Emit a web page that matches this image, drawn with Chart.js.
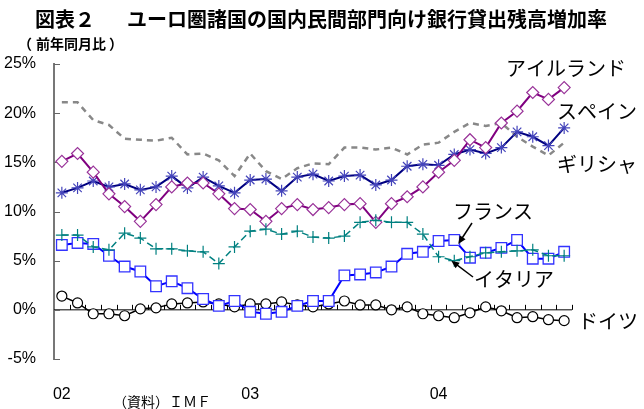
<!DOCTYPE html>
<html>
<head>
<meta charset="utf-8">
<script src="https://cdn.jsdelivr.net/npm/chart.js@4"></script>
<style>
  body { margin: 0; background: #fff; }
  canvas { display: block; }
</style>
</head>
<body>
<canvas id="loanChart" width="644" height="409"></canvas>
<script>
// monthly, Jan 2002 - Sep 2004
const categories = [];
for (const yr of ['02', '03', '04']) {
    for (let m = 1; m <= 12; m++) {
        if (yr === '04' && m > 9) break;
        categories.push(yr + '/' + m);
    }
}
const yearTicks = ['02', '03', '04'];
const yTicks = [-5, 0, 5, 10, 15, 20, 25];

const ireland = [15.1, 15.9, 14.0, 11.8, 10.5, 9.0, 10.7, 12.5, 12.9, 12.9, 11.8, 10.3, 10.2, 9.0, 10.3, 10.7, 10.2, 10.4, 10.7, 10.8, 8.9, 10.8, 11.5, 12.5, 14.0, 15.2, 17.3, 16.5, 19.0, 20.2, 22.1, 21.4, 22.6];
const spain = [11.9, 12.4, 13.1, 12.5, 12.8, 12.2, 12.5, 13.6, 12.4, 13.5, 12.6, 11.9, 13.2, 13.3, 12.1, 13.5, 13.8, 13.1, 13.6, 13.7, 12.7, 13.2, 14.6, 14.8, 14.7, 15.8, 16.3, 15.9, 16.5, 18.1, 17.6, 16.7, 18.5];
const greece = [21.1, 21.1, 19.3, 18.8, 17.4, 17.3, 17.2, 17.5, 15.8, 15.9, 15.2, 13.6, 15.9, 14.1, 13.3, 14.4, 14.9, 14.8, 16.5, 16.5, 16.3, 16.5, 15.8, 16.8, 17.0, 18.1, 19.0, 18.7, 19.0, 17.6, 16.6, 15.7, 17.0];
const france = [7.6, 7.6, 6.4, 6.1, 7.8, 7.3, 6.2, 6.2, 6.0, 5.9, 4.7, 6.4, 8.0, 8.2, 7.7, 8.0, 7.4, 7.3, 7.5, 8.9, 9.1, 8.9, 8.9, 7.7, 5.4, 5.0, 5.4, 5.8, 5.9, 6.0, 6.1, 5.5, 5.5];
const italy = [6.6, 6.8, 6.7, 5.5, 4.4, 3.9, 2.4, 2.9, 2.2, 1.1, 0.4, 0.9, -0.2, -0.4, -0.2, 0.4, 0.9, 0.9, 3.5, 3.6, 3.8, 4.4, 5.7, 5.9, 7.0, 7.1, 5.3, 5.8, 6.3, 7.1, 5.2, 5.2, 5.9];
const germany = [1.4, 0.7, -0.4, -0.4, -0.6, 0.1, 0.2, 0.6, 0.7, 0.8, 0.6, 0.3, 0.6, 0.6, 0.8, 0.5, 0.3, 0.6, 0.9, 0.5, 0.5, 0.0, 0.3, -0.4, -0.6, -0.8, -0.3, 0.3, -0.1, -0.8, -0.7, -1.0, -1.1];

const JP = '"Noto Sans CJK JP", sans-serif';
const LAT = '"Liberation Sans", Arial, sans-serif';

// zero line with small up-ticks, and inner ticks on the y axis
const axisPlugin = {
    id: 'axisPlugin',
    beforeDatasetsDraw(chart) {
        const { ctx, chartArea, scales: { x, y } } = chart;
        const y0 = y.getPixelForValue(0);
        const half = (x.getPixelForValue(1) - x.getPixelForValue(0)) / 2;
        ctx.save();
        ctx.strokeStyle = '#000';
        ctx.lineWidth = 1;
        ctx.beginPath();
        ctx.moveTo(chartArea.left, y0);
        ctx.lineTo(chartArea.right, y0);
        for (let i = 0; i < categories.length; i++) {
            const px = Math.round(x.getPixelForValue(i) + half) + 0.5;
            ctx.moveTo(px, y0);
            ctx.lineTo(px, y0 - 5);
        }
        ctx.stroke();
        ctx.strokeStyle = '#666';
        ctx.beginPath();
        yTicks.forEach(v => {
            const py = Math.round(y.getPixelForValue(v)) + 0.5;
            ctx.moveTo(chartArea.left, py);
            ctx.lineTo(chartArea.left + 6, py);
        });
        ctx.stroke();
        ctx.restore();
    }
};

function arrow(ctx, x1, y1, x2, y2) {
    const a = Math.atan2(y2 - y1, x2 - x1);
    ctx.beginPath();
    ctx.moveTo(x1, y1);
    ctx.lineTo(x2 - 5 * Math.cos(a), y2 - 5 * Math.sin(a));
    ctx.stroke();
    ctx.beginPath();
    ctx.moveTo(x2, y2);
    ctx.lineTo(x2 - 8 * Math.cos(a) + 3.5 * Math.sin(a), y2 - 8 * Math.sin(a) - 3.5 * Math.cos(a));
    ctx.lineTo(x2 - 8 * Math.cos(a) - 3.5 * Math.sin(a), y2 - 8 * Math.sin(a) + 3.5 * Math.cos(a));
    ctx.closePath();
    ctx.fill();
}

const textPlugin = {
    id: 'textPlugin',
    afterDraw(chart) {
        const { ctx, scales: { x, y } } = chart;
        ctx.save();
        ctx.fillStyle = '#000';
        ctx.textBaseline = 'middle';
        ctx.textAlign = 'left';

        ctx.font = 'bold 20px ' + JP;
        ctx.fillText('図表２', 35, 19);
        ctx.fillText('ユーロ圏諸国の国内民間部門向け銀行貸出残高増加率', 127, 19);
        ctx.font = 'bold 14px ' + JP;
        ctx.fillText('（', 18, 44);
        ctx.fillText('前年同月比', 36, 44);
        ctx.fillText('）', 109, 44);
        ctx.font = '14px ' + JP;
        ctx.fillText('（資料）ＩＭＦ', 113, 402);

        ctx.font = '20px ' + JP;
        ctx.fillText('アイルランド', 506, 68);
        ctx.fillText('スペイン', 557, 111);
        ctx.fillText('ギリシャ', 557, 164);
        ctx.fillText('フランス', 453, 211);
        ctx.fillText('イタリア', 474, 279);
        ctx.fillText('ドイツ', 578, 321);

        ctx.strokeStyle = '#000';
        ctx.lineWidth = 1.5;
        const xp = x.getPixelForValue(25);
        arrow(ctx, 472, 223, xp + 4, y.getPixelForValue(6.7));
        arrow(ctx, 473, 277, xp - 3, y.getPixelForValue(5.0));
        ctx.restore();
    }
};

new Chart(document.getElementById('loanChart').getContext('2d'), {
    type: 'line',
    data: {
        labels: categories,
        datasets: [
            {
                label: 'フランス', data: france,
                borderColor: '#008080', borderWidth: 1.5, borderDash: [7, 4],
                pointStyle: 'cross', pointRadius: 6, pointBorderColor: '#008080', pointBorderWidth: 1.2
            },
            {
                label: 'アイルランド', data: ireland,
                borderColor: '#800080', borderWidth: 2,
                pointStyle: 'rectRot', pointRadius: 6, pointBackgroundColor: '#fff',
                pointBorderColor: '#993399', pointBorderWidth: 1.2
            },
            {
                label: 'スペイン', data: spain,
                borderColor: '#000080', borderWidth: 2,
                pointStyle: 'star', pointRadius: 6, pointBorderColor: '#4444bb', pointBorderWidth: 1.2
            },
            {
                label: 'イタリア', data: italy,
                borderColor: '#0000ff', borderWidth: 2,
                pointStyle: 'rect', pointRadius: 7.5, pointBackgroundColor: '#fff',
                pointBorderColor: '#3333ff', pointBorderWidth: 1.3
            },
            {
                label: 'ドイツ', data: germany,
                borderColor: '#000', borderWidth: 1.5,
                pointStyle: 'circle', pointRadius: 5, pointBackgroundColor: '#fff',
                pointBorderColor: '#000', pointBorderWidth: 1.2
            },
            {
                label: 'ギリシャ', data: greece,
                borderColor: '#888', borderWidth: 2.5, borderDash: [6, 5],
                pointRadius: 0
            }
        ]
    },
    options: {
        responsive: false,
        animation: false,
        layout: { padding: { top: 64, right: 72, left: 0, bottom: 0 } },
        plugins: {
            legend: { display: false },
            tooltip: { enabled: false }
        },
        scales: {
            x: {
                offset: true,
                grid: { display: false },
                border: { display: false },
                ticks: {
                    autoSkip: false, maxRotation: 0, padding: 18, color: '#000',
                    font: { family: LAT, size: 16 },
                    callback: (v, i) => (i % 12 === 0 ? yearTicks[i / 12] : '')
                },
                afterFit: s => { s.height = 50; }
            },
            y: {
                min: -5, max: 25,
                afterBuildTicks: s => { s.ticks = yTicks.map(v => ({ value: v })); },
                grid: { display: false },
                border: { display: true, color: '#777', width: 2 },
                ticks: {
                    padding: 10, color: '#000',
                    font: { family: LAT, size: 16 },
                    callback: v => v + '%'
                },
                afterFit: s => { s.width = 54; }
            }
        }
    },
    plugins: [axisPlugin, textPlugin]
});
</script>
</body>
</html>
